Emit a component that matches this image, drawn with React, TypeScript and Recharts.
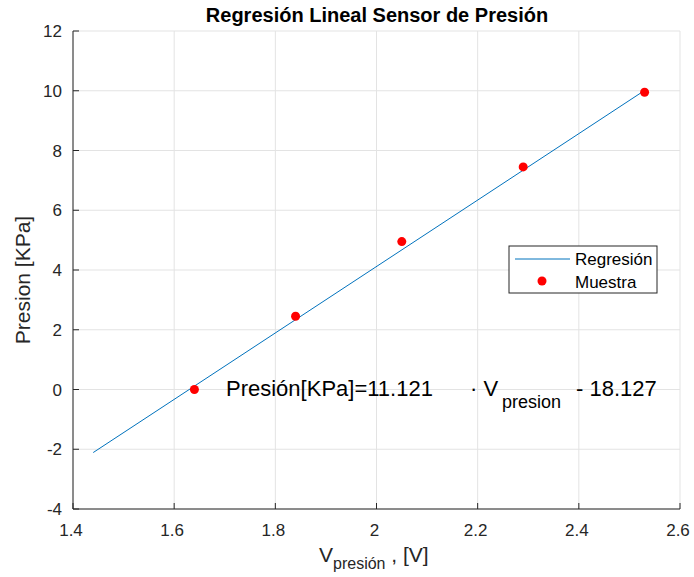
import React from "react";
import {
  ComposedChart,
  Line,
  Scatter,
  XAxis,
  YAxis,
  CartesianGrid,
} from "recharts";

// measured samples (voltage vs pressure)
const sampleVolts = [1.64, 1.84, 2.05, 2.29, 2.53];
const samplePressure = [0, 2.45, 4.95, 7.45, 9.95];

// regression line end points
const fitVolts = [1.44, 2.53];
const fitPressure = [-2.11, 10.01];

const xTicks = [1.4, 1.6, 1.8, 2, 2.2, 2.4, 2.6];
const yTicks = [-4, -2, 0, 2, 4, 6, 8, 10, 12];

const samples = sampleVolts.map((x, i) => ({ x, y: samplePressure[i] }));
const fit = fitVolts.map((x, i) => ({ x, y: fitPressure[i] }));

const FONT = "'Liberation Sans', Arial, Helvetica, sans-serif";
const TEXT = "#262626";
const BLUE = "#0072bd";
const RED = "#ff0000";

const XTick = (props: any) => {
  const { x, y, payload } = props;
  return (
    <g>
      <line x1={x} x2={x} y1={y} y2={y - 6} stroke={TEXT} strokeWidth={1} />
      <text x={x - 2} y={y + 27} textAnchor="middle" fontSize={17} fill={TEXT} fontFamily={FONT}>
        {payload.value}
      </text>
    </g>
  );
};

const YTick = (props: any) => {
  const { x, y, payload } = props;
  return (
    <g>
      <line x1={x} x2={x + 6} y1={y} y2={y} stroke={TEXT} strokeWidth={1} />
      <text x={x - 11} y={y + 6} textAnchor="end" fontSize={17} fill={TEXT} fontFamily={FONT}>
        {payload.value}
      </text>
    </g>
  );
};

export default function App() {
  return (
    <div style={{ position: "absolute", left: 0, top: 0, width: 694, height: 577, background: "#fff" }}>
      <ComposedChart width={694} height={577} margin={{ top: 31, right: 14, bottom: 0, left: 0 }}>
        <CartesianGrid stroke="#e3e3e3" strokeWidth={1} />
        <XAxis
          type="number"
          dataKey="x"
          domain={[1.4, 2.6]}
          ticks={xTicks}
          interval={0}
          height={68}
          tickSize={0}
          tickMargin={0}
          tickLine={false}
          tick={<XTick />}
          stroke={TEXT}
          allowDataOverflow
        />
        <YAxis
          type="number"
          dataKey="y"
          domain={[-4, 12]}
          ticks={yTicks}
          interval={0}
          width={73}
          tickSize={0}
          tickMargin={0}
          tickLine={false}
          tick={<YTick />}
          stroke={TEXT}
          allowDataOverflow
        />
        <Line
          data={fit}
          dataKey="y"
          name="Regresión"
          stroke={BLUE}
          strokeWidth={1}
          dot={false}
          activeDot={false}
          isAnimationActive={false}
        />
        <Scatter
          data={samples}
          dataKey="y"
          name="Muestra"
          fill={RED}
          shape={(p: any) => <circle cx={p.cx} cy={p.cy} r={4.5} fill={RED} />}
          isAnimationActive={false}
        />
        <text x={377} y={22} textAnchor="middle" fontSize={20} fontWeight="bold" fontFamily={FONT} fill="#000">
          Regresión Lineal Sensor de Presión
        </text>
        <text
          x={30}
          y={280}
          textAnchor="middle"
          fontSize={21}
          fontFamily={FONT}
          fill={TEXT}
          transform="rotate(-90 30 280)"
        >
          Presion [KPa]
        </text>
        <text x={319} y={562} fontSize={21} fontFamily={FONT} fill={TEXT}>
          V
          <tspan fontSize={16} dy={7}>presión</tspan>
          <tspan fontSize={21} dy={-7}> , [V]</tspan>
        </text>
        <text x={226} y={396} fontSize={22} fontFamily={FONT} fill="#000">
          Presión[KPa]=11.121
        </text>
        <text x={470} y={396} fontSize={22} fontFamily={FONT} fill="#000">
          · V
        </text>
        <text x={502} y={408} fontSize={18} fontFamily={FONT} fill="#000">
          presion
        </text>
        <text x={576} y={396} fontSize={22} fontFamily={FONT} fill="#000">
          - 18.127
        </text>
        <g>
          <rect x={509} y={246} width={148} height={47} fill="#fff" stroke={TEXT} strokeWidth={1} />
          <line x1={515} x2={570} y1={259} y2={259} stroke={BLUE} strokeWidth={1} />
          <circle cx={542} cy={281} r={4.5} fill={RED} />
          <text x={575} y={265} fontSize={17} fontFamily={FONT} fill="#000">Regresión</text>
          <text x={575} y={288} fontSize={17} fontFamily={FONT} fill="#000">Muestra</text>
        </g>
      </ComposedChart>
    </div>
  );
}
